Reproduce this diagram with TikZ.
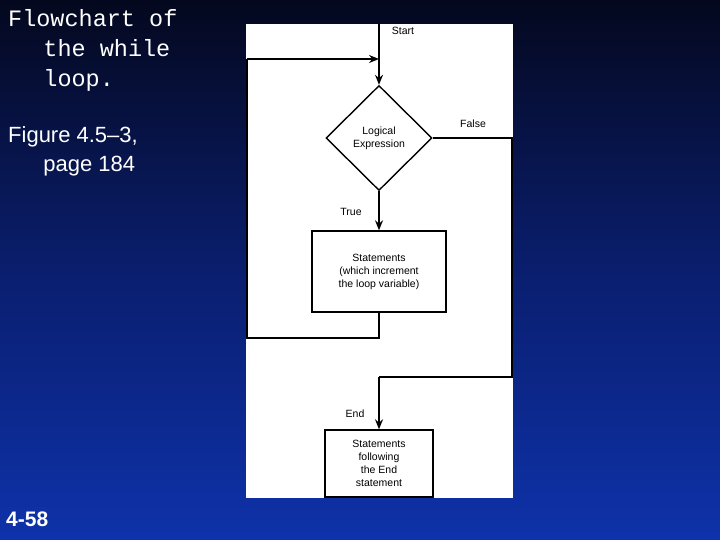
\documentclass[tikz,border=0pt]{standalone}
\usepackage{fontspec}
\setmainfont{Liberation Sans}
\setmonofont{Liberation Mono}
\usetikzlibrary{shapes.geometric,arrows.meta}
\definecolor{bgtop}{RGB}{4,8,30}
\definecolor{bgmid}{RGB}{10,30,110}
\definecolor{bgbot}{RGB}{14,50,170}
\begin{document}
\begin{tikzpicture}[x=1pt,y=-1pt,
  lbl/.style={font=\fontsize{10.5}{13}\selectfont,align=center,inner sep=0},
  ln/.style={draw=black,line width=1.4pt},
  arr/.style={ln,-{Stealth[length=10pt,width=8pt]}},
  slide/.style={text=white,anchor=north west,align=left,inner sep=0}]
\useasboundingbox (0,0) rectangle (720,540);
\shade[top color=bgtop, bottom color=bgbot, middle color=bgmid] (0,0) rectangle (720,540);
\fill[white] (246,24) rectangle (513,498);
\node[slide,font=\ttfamily\fontsize{23.5}{30}\selectfont] (t1) at (8,9) {Flowchart of\\\hspace*{1.5em}the while\\\hspace*{1.5em}loop.};
\node[slide,font=\fontsize{22}{29}\selectfont] (t2) at (8,126) {Figure 4.5--3,\\\hspace*{1.6em}page 184};
\node[slide,font=\bfseries\fontsize{21}{21}\selectfont] (t3) at (6,512) {4-58};
\coordinate (top) at (379,24);
\node[diamond,draw,line width=1.4pt,minimum width=106pt,minimum height=105pt,inner sep=0,lbl] (d) at (379,138) {Logical\\Expression};
\node[draw,line width=1.4pt,minimum width=134pt,minimum height=81pt,lbl] (b1) at (379,271.5) {Statements\\(which increment\\the loop variable)};
\node[draw,line width=1.4pt,minimum width=108pt,minimum height=67pt,lbl] (b2) at (379,463.5) {Statements\\following\\the End\\statement};
\node[lbl] (s) at (403,31) {Start};
\node[lbl] (f) at (473,124) {False};
\node[lbl] (tr) at (351,212) {True};
\node[lbl] (e) at (355,414) {End};
\coordinate (ltop) at (247,59);
\coordinate (lbot) at (247,338);
\coordinate (rr) at (512,138);
\coordinate (rb) at (512,377);
\draw[arr] (top) -- (d.north);
\draw[arr] (ltop) -- (379,59);
\draw[arr] (d.south) -- (b1.north);
\draw[ln] (b1.south) |- (lbot) -- (ltop);
\draw[ln] (d.east) -- (rr) -- (rb) -- (379,377);
\draw[arr] (379,377) -- (b2.north);
\end{tikzpicture}
\end{document}
